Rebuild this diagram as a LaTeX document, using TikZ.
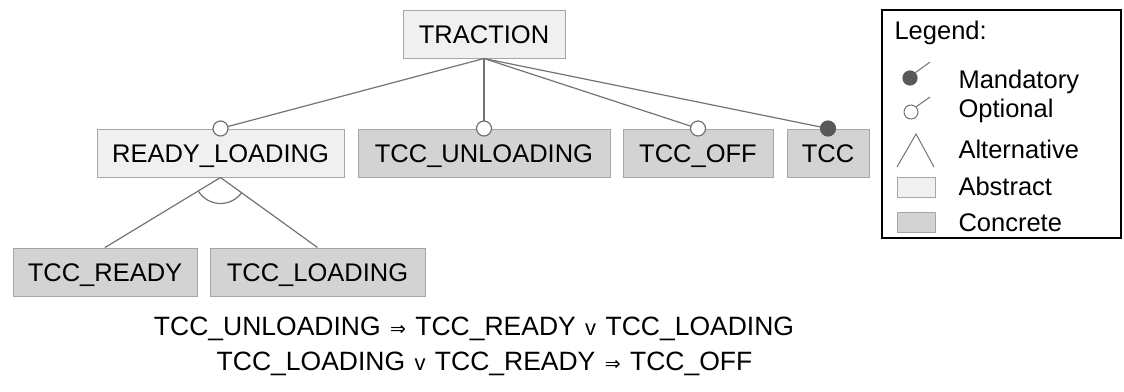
\documentclass[tikz,border=0pt]{standalone}
\usepackage{fontspec}
\setmainfont{Liberation Sans}
\newfontfamily\arrowfont{DejaVu Sans}
\usetikzlibrary{calc}
\definecolor{abstractfill}{HTML}{F0F0F0}
\definecolor{concretefill}{HTML}{D3D3D3}
\definecolor{boxline}{HTML}{A6A6A6}
\definecolor{edgeline}{HTML}{737373}
\definecolor{mandfill}{HTML}{595959}
\newcommand{\impl}{\hspace{2pt}{\arrowfont\fontsize{19}{19}\selectfont ⇒}\hspace{2pt}}
\newcommand{\orsign}{\hspace{2pt}{\fontsize{22}{22}\selectfont v}\hspace{2pt}}

\begin{document}
\begin{tikzpicture}[x=1pt,y=-1pt,
	every node/.style={font=\fontsize{25.5}{30}\selectfont},
	feature/.style={draw=boxline, line width=1pt, minimum height=48pt, inner sep=0pt, text height=18pt, text depth=0pt},
	abstract/.style={feature, fill=abstractfill},
	concrete/.style={feature, fill=concretefill},
	edge/.style={draw=edgeline, line width=1.2pt},
	optional/.style={circle, draw=edgeline, line width=1.2pt, fill=white, minimum size=15pt, inner sep=0pt},
	mandatory/.style={optional, fill=mandfill, draw=mandfill},
	rule/.style={font=\fontsize{26.5}{30}\selectfont}]
	\useasboundingbox (0,0) rectangle (1124,391);

	\node[abstract, minimum width=162pt] (traction) at (484,34) {TRACTION};
	\node[abstract, minimum width=247pt] (readyloading) at (220.5,153) {READY\_LOADING};
	\node[concrete, minimum width=252pt] (tccunloading) at (484,153) {TCC\_UNLOADING};
	\node[concrete, minimum width=150pt] (tccoff) at (698,153) {TCC\_OFF};
	\node[concrete, minimum width=82pt] (tcc) at (828,153) {TCC};
	\node[concrete, minimum width=184pt] (tccready) at (105,272) {TCC\_READY};
	\node[concrete, minimum width=215pt] (tccloading) at (317.5,272) {TCC\_LOADING};

	\draw[edge] (traction.south) -- (readyloading.north);
	\draw[edge] (traction.south) -- (tccunloading.north);
	\draw[edge] (traction.south) -- (tccoff.north);
	\draw[edge] (traction.south) -- (tcc.north);
	\draw[edge] (readyloading.south) -- (tccready.north);
	\draw[edge] (readyloading.south) -- (tccloading.north);
	\draw[edge] ($(readyloading.south)+(148:26)$) arc[start angle=148, end angle=36, radius=26];

	\node[optional] (optrl) at (readyloading.north) {};
	\node[optional] (optun) at (tccunloading.north) {};
	\node[optional] (optoff) at (tccoff.north) {};
	\node[mandatory] (mandtcc) at (tcc.north) {};

	\node[rule] (rule1) at (474,329) {TCC\_UNLOADING \impl{} TCC\_READY \orsign{} TCC\_LOADING};
	\node[rule] (rule2) at (484.5,364) {TCC\_LOADING \orsign{} TCC\_READY \impl{} TCC\_OFF};

	\draw[line width=1.5pt] (882,10) rectangle (1121,238);
	\node[anchor=base west] (legend) at (891,39) {Legend:};
	\node[anchor=base west] (lmand) at (955,88) {Mandatory};
	\node[anchor=base west] (lopt) at (955,117) {Optional};
	\node[anchor=base west] (lalt) at (955,158) {Alternative};
	\node[anchor=base west] (labs) at (955,195) {Abstract};
	\node[anchor=base west] (lcon) at (955,231) {Concrete};

	\node[mandatory, minimum size=14pt] (imand) at (910,78) {};
	\draw[edge, line width=1pt] (imand.45) -- (930,62);
	\node[optional, minimum size=14pt, line width=1pt] (iopt) at (911,112) {};
	\draw[edge, line width=1pt] (iopt.45) -- (930,97);
	\coordinate (ialt) at (916,134);
	\draw[edge, line width=1pt] (897,167) -- (ialt) -- (934,167);
	\draw[draw=boxline, fill=abstractfill] (897,177) rectangle (935,197);
	\draw[draw=boxline, fill=concretefill] (897,212) rectangle (935,232);
\end{tikzpicture}
\end{document}
